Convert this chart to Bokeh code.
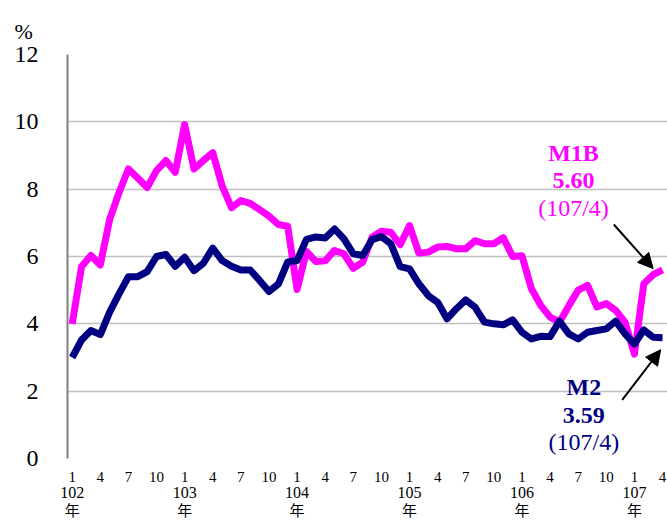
from bokeh.plotting import figure
from bokeh.models import (FixedTicker, LinearAxis, Label, Arrow, NormalHead, Range1d)
from bokeh.embed import file_html
from bokeh.resources import INLINE

# ---- data ----
years = [102] * 12 + [103] * 12 + [104] * 12 + [105] * 12 + [106] * 12 + [107] * 4
months = list(range(1, 13)) * 5 + [1, 2, 3, 4]

m1b = [4.00, 5.70, 6.03, 5.75, 7.10, 7.90, 8.60, 8.33, 8.05, 8.55, 8.85, 8.50,
       9.92, 8.60, 8.85, 9.08, 8.10, 7.45, 7.66, 7.58, 7.39, 7.20, 6.95, 6.90,
       5.02, 6.15, 5.85, 5.87, 6.18, 6.08, 5.65, 5.83, 6.57, 6.75, 6.72, 6.35,
       6.92, 6.10, 6.13, 6.28, 6.30, 6.23, 6.23, 6.47, 6.38, 6.38, 6.56, 6.00,
       6.02, 5.05, 4.55, 4.20, 4.05, 4.54, 5.00, 5.14, 4.50, 4.60, 4.40, 4.05,
       3.10, 5.19, 5.46, 5.60]
m2 = [3.00, 3.52, 3.80, 3.68, 4.35, 4.89, 5.40, 5.40, 5.55, 6.00, 6.06, 5.71,
      5.98, 5.58, 5.80, 6.25, 5.88, 5.71, 5.60, 5.60, 5.29, 4.96, 5.18, 5.84,
      5.88, 6.51, 6.58, 6.55, 6.82, 6.52, 6.08, 6.03, 6.50, 6.59, 6.38, 5.70,
      5.63, 5.19, 4.84, 4.64, 4.15, 4.45, 4.71, 4.49, 4.05, 4.00, 3.97, 4.12,
      3.75, 3.55, 3.63, 3.62, 4.08, 3.70, 3.55, 3.75, 3.80, 3.85, 4.08, 3.70,
      3.40, 3.82, 3.60, 3.59]

y_ticks = [0, 2, 4, 6, 8, 10, 12]
month_tick_values = [1, 4, 7, 10]
year_unit = "年"
unit_text = "%"

m1b_label = ["M1B", "5.60", "(107/4)"]
m2_label = ["M2", "3.59", "(107/4)"]

# ---- derived positions ----
x = [(yy - years[0]) * 12 + (mm - 1) for yy, mm in zip(years, months)]

SERIF = "Liberation Serif"
MAGENTA = "#FF00FF"
NAVY = "#000080"

p = figure(width=667, height=521, output_backend="svg", toolbar_location=None,
           x_range=Range1d(-0.5, 63.53), y_range=Range1d(0, 12),
           min_border_left=67, min_border_right=0, min_border_top=54,
           min_border_bottom=63, x_axis_location=None,
           title=unit_text)
p.outline_line_color = None
p.background_fill_color = "white"
p.border_fill_color = "white"

p.title.text_font = SERIF
p.title.text_font_size = "22px"
p.title.text_font_style = "normal"
p.title.text_color = "black"
p.title.align = "left"
p.title.offset = -53
p.title.standoff = 22

p.line(x, m1b, line_color=MAGENTA, line_width=7, line_join="round")
p.line(x, m2, line_color=NAVY, line_width=7, line_join="round")

# y axis
p.yaxis.ticker = FixedTicker(ticks=y_ticks)
p.yaxis.major_label_text_font = SERIF
p.yaxis.major_label_text_font_size = "24px"
p.yaxis.major_label_text_color = "black"
p.yaxis.major_tick_out = 0
p.yaxis.major_tick_in = 0
p.yaxis.minor_tick_out = 0
p.yaxis.minor_tick_in = 0
p.yaxis.axis_line_color = "#808080"
p.yaxis.axis_line_width = 2
p.yaxis.major_label_standoff = 29

p.ygrid.ticker = FixedTicker(ticks=y_ticks)
p.ygrid.grid_line_color = "#c0c0c0"
p.ygrid.grid_line_width = 1.5
p.xgrid.grid_line_color = None

# x axes (three rows)
month_ticks = [xi for xi, mm in zip(x, months) if mm in month_tick_values]
month_over = {xi: str(mm) for xi, mm in zip(x, months) if mm in month_tick_values}
year_ticks = [xi for xi, mm in zip(x, months) if mm == 1]
year_over = {xi: str(yy) for xi, yy, mm in zip(x, years, months) if mm == 1}
unit_over = {xi: year_unit for xi in year_ticks}

def make_axis(ticks, over, standoff, size):
    ax = LinearAxis(ticker=FixedTicker(ticks=ticks), major_label_overrides=over)
    ax.axis_line_color = None
    ax.major_tick_out = 0
    ax.major_tick_in = 0
    ax.minor_tick_out = 0
    ax.minor_tick_in = 0
    ax.major_label_text_font = SERIF + ", Noto Sans CJK TC"
    ax.major_label_text_font_size = size
    ax.major_label_text_color = "black"
    ax.major_label_standoff = standoff
    return ax

p.add_layout(make_axis(month_ticks, month_over, 13, "15px"), "below")
p.add_layout(make_axis(year_ticks, year_over, 2, "16px"), "below")
p.add_layout(make_axis(year_ticks, unit_over, 2, "15px"), "below")

# annotations
def add_block(lines, cx, ys, color):
    for i, (t, yy) in enumerate(zip(lines, ys)):
        p.add_layout(Label(x=cx, y=yy, text=t, text_font=SERIF, text_font_size="24px",
                           text_font_style="bold" if i < 2 else "normal",
                           text_color=color, text_align="center", text_baseline="middle"))

add_block(m1b_label, 53.5, [9.06, 8.26, 7.43], MAGENTA)
add_block(m2_label, 54.6, [2.12, 1.28, 0.49], NAVY)

p.add_layout(Arrow(end=NormalHead(size=15, fill_color="black", line_color="black"),
                   x_start=57.8, y_start=6.95, x_end=62.0, y_end=5.64,
                   line_color="black", line_width=2))
p.add_layout(Arrow(end=NormalHead(size=15, fill_color="black", line_color="black"),
                   x_start=58.7, y_start=1.74, x_end=62.8, y_end=3.23,
                   line_color="black", line_width=2))

open("out.html", "w").write(file_html(p, INLINE))
